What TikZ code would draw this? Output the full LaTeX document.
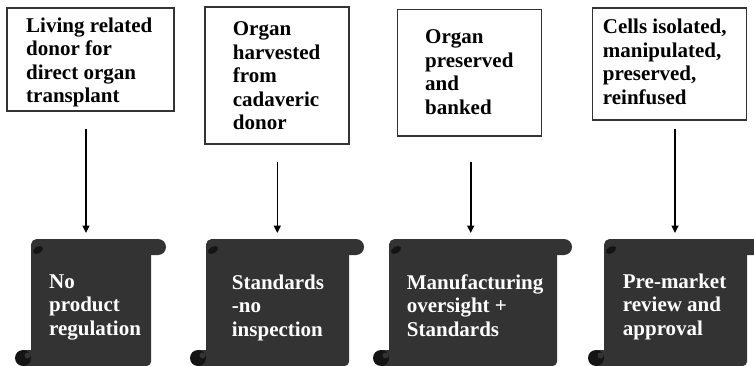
\documentclass[tikz,border=0pt]{standalone}
\usepackage{fontspec}
\setmainfont{Liberation Serif}
\usetikzlibrary{arrows.meta}
\definecolor{scrollgray}{HTML}{333333}
\definecolor{curlblack}{HTML}{141414}
\definecolor{framegray}{HTML}{333333}

% Scroll banner: #1 body node name, #2 left edge, #3 right edge of the body
\newcommand\scrollparts[3]{%
  \fill[scrollgray, rounded corners=8pt] (#2,239) rectangle ({#3+15},255);
  \fill[scrollgray] ({#2-8},350) rectangle ({#2+6},366);
  \node[scrollbody, minimum width={#3-#2}, anchor=north west] (#1) at (#2,239) {};
  \fill[curlblack] ({#2-8},358) circle[radius=8pt];
  \fill[scrollgray] ({#2-3.5},355.5) circle[radius=3pt];
  \fill[curlblack, rotate around={30:({#2+7},250)}] ({#2+7},250) ellipse[x radius=5.5pt, y radius=3.3pt];
}

\begin{document}
\begin{tikzpicture}[x=1pt, y=-1pt,
  box/.style={draw=framegray, line width=1.2pt, inner sep=0pt},
  boxtext/.style={anchor=west, align=left, inner sep=0pt,
    font=\bfseries\fontsize{21}{23.5}\selectfont},
  scrolltext/.style={boxtext, text=white},
  scrollbody/.style={fill=scrollgray, rounded corners=5pt, inner sep=0pt,
    minimum height=127pt},
  flow/.style={line width=1.6pt, -{Triangle[width=7pt,length=7.5pt]}, shorten >=6pt}]
\useasboundingbox (0,0) rectangle (754,366);
\clip (0,0) rectangle (754,366);

% upper boxes
\node[box, minimum width=167pt, minimum height=103pt] (b1) at (90.5,59.5) {};
\node[box, minimum width=144pt, minimum height=137pt] (b2) at (277,75.5) {};
\node[box, minimum width=144pt, minimum height=126.7pt] (b3) at (469.7,72.7) {};
\node[box, minimum width=154pt, minimum height=112pt] (b4) at (669.7,64) {};

\node[boxtext] (t1) at (26,63) {\strut Living related\\donor for\\direct organ\\transplant\strut};
\node[boxtext] (t2) at (232.7,78) {\strut Organ\\harvested\\from\\cadaveric\\donor\strut};
\node[boxtext] (t3) at (425,74.5) {\strut Organ\\preserved\\and\\banked\strut};
\node[boxtext] (t4) at (602.7,64.5) {\strut Cells isolated,\\manipulated,\\preserved,\\reinfused\strut};

% scrolls
\scrollparts{s1}{31}{151}
\scrollparts{s2}{206}{349}
\scrollparts{s3}{389}{557}
\scrollparts{s4}{604}{747}

\node[scrolltext] (u1) at (49,307.1) {\strut No\\product\\regulation\strut};
\node[scrolltext] (u2) at (231.7,307.8) {\strut Standards\\-no\\inspection\strut};
\node[scrolltext] (u3) at (406.7,307.8) {\strut Manufacturing\\oversight +\\Standards\strut};
\node[scrolltext] (u4) at (622.7,307.1) {\strut Pre-market\\review and\\approval\strut};

% arrows
\coordinate (a1) at (86,129);
\coordinate (a2) at (277.3,161.7);
\coordinate (a3) at (470.7,161.7);
\coordinate (a4) at (675,129.3);
\draw[flow] (a1) -- (a1 |- s1.north);
\draw[flow] (a2) -- (a2 |- s2.north);
\draw[flow] (a3) -- (a3 |- s3.north);
\draw[flow] (a4) -- (a4 |- s4.north);
\end{tikzpicture}
\end{document}
